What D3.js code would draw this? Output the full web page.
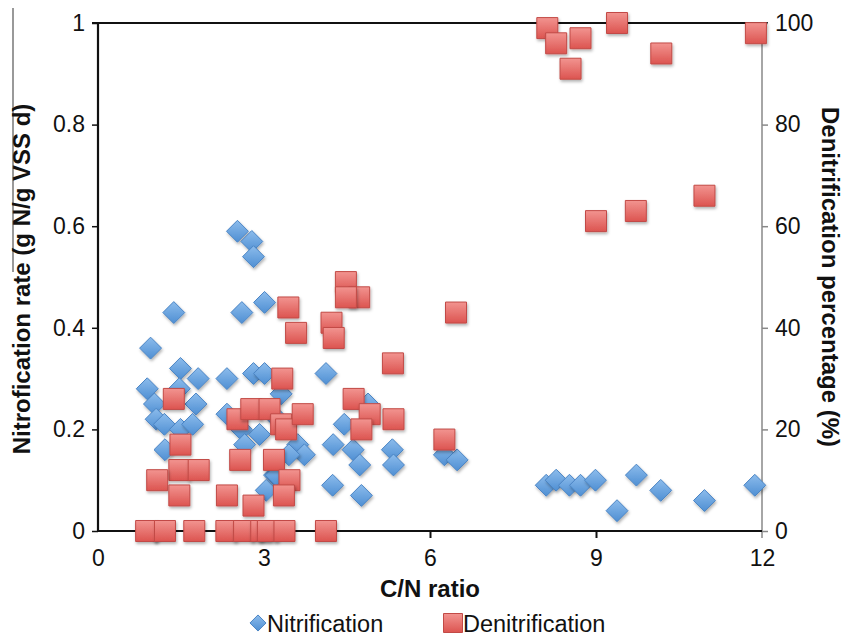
<!DOCTYPE html>
<html>
<head>
<meta charset="utf-8">
<script src="https://cdn.jsdelivr.net/npm/d3@7"></script>
<style>
  body { margin: 0; background: #fff; }
  svg { display: block; font-family: "Liberation Sans", Arial, Helvetica, sans-serif; }
</style>
</head>
<body>
<svg id="chart" width="847" height="639"></svg>
<script>
// nitrification rate (g N/g VSS d) against C/N ratio
const nitrificationCN = [
  0.95, 1.37, 2.52, 2.78, 2.81, 2.60, 3.01, 1.49, 1.81, 2.33,
  2.81, 3.01, 4.12, 0.89, 1.47, 1.02, 1.77, 1.05, 1.20, 1.49,
  1.71, 1.21, 2.33, 2.59, 2.92, 2.65, 3.31, 3.61, 3.73, 3.19,
  3.04, 4.25, 4.24, 4.45, 4.61, 4.73, 4.76, 4.88, 5.32, 5.34,
  6.26, 6.49, 8.10, 8.28, 8.52, 8.72, 8.99, 9.38, 9.73, 10.17,
  10.96, 11.87, 1.05, 2.95, 3.25, 3.45, 3.22
];
const nitrificationRate = [
  0.36, 0.43, 0.59, 0.57, 0.54, 0.43, 0.45, 0.32, 0.30, 0.30,
  0.31, 0.31, 0.31, 0.28, 0.28, 0.25, 0.25, 0.22, 0.21, 0.20,
  0.21, 0.16, 0.23, 0.20, 0.19, 0.17, 0.27, 0.17, 0.15, 0.11,
  0.08, 0.17, 0.09, 0.21, 0.16, 0.13, 0.07, 0.25, 0.16, 0.13,
  0.15, 0.14, 0.09, 0.10, 0.09, 0.09, 0.10, 0.04, 0.11, 0.08,
  0.06, 0.09, 0.00, 0.00, 0.22, 0.15, 0.11
];

// denitrification percentage (%) against C/N ratio
const denitrificationCN = [
  1.37, 1.49, 1.47, 1.82, 1.07, 1.47, 2.33, 2.57, 2.52, 2.77,
  3.10, 2.81, 3.18, 3.33, 3.31, 3.40, 3.46, 3.36, 3.70, 3.44,
  3.58, 4.22, 4.26, 4.48, 4.72, 4.48, 4.62, 4.91, 4.76, 5.33,
  5.34, 6.47, 6.26, 9.00, 9.72, 10.96, 8.12, 8.28, 8.72, 8.54,
  9.38, 10.18, 11.89,
  0.87, 1.21, 1.74, 2.32, 2.64, 2.95, 3.07, 3.37, 4.12
];
const denitrificationPct = [
  26, 17, 12, 12, 10, 7, 7, 14, 22, 24,
  24, 5, 14, 30, 21, 20, 10, 7, 23, 44,
  39, 41, 38, 49, 46, 46, 26, 23, 20, 33,
  22, 43, 18, 61, 63, 66, 99, 96, 97, 91,
  100, 94, 98,
  0, 0, 0, 0, 0, 0, 0, 0, 0
];

const xTicks = [0, 3, 6, 9, 12];
const leftTicks = [0, 0.2, 0.4, 0.6, 0.8, 1];
const rightTicks = [0, 20, 40, 60, 80, 100];

const svg = d3.select('#chart');
const plotLeft = 98, plotRight = 762, plotTop = 23, plotBottom = 531;

const x = d3.scaleLinear().domain([0, 12]).range([plotLeft, plotRight]);
const yLeft = d3.scaleLinear().domain([0, 1]).range([plotBottom, plotTop]);
const yRight = d3.scaleLinear().domain([0, 100]).range([plotBottom, plotTop]);

// defs: gradients + soft shadow
const defs = svg.append('defs');
const blue = defs.append('linearGradient').attr('id', 'blueGrad')
  .attr('x1', 0).attr('y1', 0).attr('x2', 0).attr('y2', 1);
blue.append('stop').attr('offset', '0%').attr('stop-color', '#8cbcec');
blue.append('stop').attr('offset', '100%').attr('stop-color', '#4f8fd3');
const red = defs.append('linearGradient').attr('id', 'redGrad')
  .attr('x1', 0).attr('y1', 0).attr('x2', 0).attr('y2', 1);
red.append('stop').attr('offset', '0%').attr('stop-color', '#f29490');
red.append('stop').attr('offset', '100%').attr('stop-color', '#dc5450');
const shadow = defs.append('filter').attr('id', 'shadow')
  .attr('x', '-50%').attr('y', '-50%').attr('width', '200%').attr('height', '200%');
shadow.append('feDropShadow').attr('dx', 1).attr('dy', 2)
  .attr('stdDeviation', 1.5).attr('flood-color', '#000').attr('flood-opacity', 0.3);

// odd grey rule at the far left of the original figure
svg.append('line').attr('x1', 13).attr('x2', 13).attr('y1', 8).attr('y2', 272)
  .attr('stroke', '#777').attr('stroke-width', 1.5);

// diamond symbol (drawn upright so the gradient runs top->bottom)
const diamondType = {
  draw(ctx, size) {
    const r = Math.sqrt(size / 2);
    ctx.moveTo(0, -r); ctx.lineTo(r, 0); ctx.lineTo(0, r); ctx.lineTo(-r, 0); ctx.closePath();
  }
};

// top frame line
svg.append('line').attr('x1', 92).attr('x2', plotRight + 6).attr('y1', plotTop).attr('y2', plotTop)
  .attr('stroke', '#111').attr('stroke-width', 2);

// right axis (grey)
const rAxis = svg.append('g').attr('transform', `translate(${plotRight},0)`)
  .call(d3.axisRight(yRight).tickValues(rightTicks).tickSize(6).tickPadding(7));
rAxis.select('.domain').attr('stroke', '#888').attr('stroke-width', 1.5)
  .attr('d', `M0,${plotTop}V${plotBottom + 7}`);
rAxis.selectAll('.tick line').attr('stroke', '#888').attr('stroke-width', 1.5);
rAxis.selectAll('.tick text').attr('font-size', 23).attr('fill', '#111');
rAxis.attr('font-family', null);

// bottom axis
const bAxis = svg.append('g').attr('transform', `translate(0,${plotBottom})`)
  .call(d3.axisBottom(x).tickValues(xTicks).tickSize(7).tickPadding(12));
bAxis.select('.domain').attr('stroke', '#111').attr('stroke-width', 2.2)
  .attr('d', `M${plotLeft},0H${plotRight}`);
bAxis.selectAll('.tick line').attr('stroke', '#111').attr('stroke-width', 2)
  .attr('opacity', d => (d === 0 || d === 12) ? 0 : 1);
bAxis.selectAll('.tick text').attr('font-size', 23).attr('fill', '#111');
bAxis.attr('font-family', null);

// left axis
const lAxis = svg.append('g').attr('transform', `translate(${plotLeft},0)`)
  .call(d3.axisLeft(yLeft).tickValues(leftTicks).tickSize(6).tickPadding(7).tickFormat(d => d));
lAxis.select('.domain').attr('stroke', '#111').attr('stroke-width', 2.2)
  .attr('d', `M0,${plotTop}V${plotBottom}`);
lAxis.selectAll('.tick line').attr('stroke', '#111').attr('stroke-width', 1.5);
lAxis.selectAll('.tick text').attr('font-size', 23).attr('fill', '#111');
lAxis.attr('font-family', null);

// nitrification diamonds
const nitrData = nitrificationCN.map((c, i) => ({ cn: c, v: nitrificationRate[i] }));
svg.append('g').attr('id', 'nitrification')
  .selectAll('path').data(nitrData).join('path')
  .attr('d', d3.symbol(diamondType, 240))
  .attr('transform', d => `translate(${x(d.cn)},${yLeft(d.v)})`)
  .attr('fill', 'url(#blueGrad)')
  .attr('stroke', '#4a84c4').attr('stroke-width', 1)
  .attr('filter', 'url(#shadow)');

// denitrification squares
const denData = denitrificationCN.map((c, i) => ({ cn: c, v: denitrificationPct[i] }));
svg.append('g').attr('id', 'denitrification')
  .selectAll('path').data(denData).join('path')
  .attr('d', d3.symbol(d3.symbolSquare, 441))
  .attr('transform', d => `translate(${x(d.cn)},${yRight(d.v)})`)
  .attr('fill', 'url(#redGrad)')
  .attr('stroke', '#c24a46').attr('stroke-width', 1)
  .attr('filter', 'url(#shadow)');

// axis titles
svg.append('text')
  .attr('transform', `translate(30,${(plotTop + plotBottom) / 2 + 2}) rotate(-90)`)
  .attr('text-anchor', 'middle').attr('font-size', 24).attr('font-weight', 'bold').attr('fill', '#111')
  .text('Nitrofication rate (g N/g VSS d)');
svg.append('text')
  .attr('transform', `translate(822,${(plotTop + plotBottom) / 2}) rotate(90)`)
  .attr('text-anchor', 'middle').attr('font-size', 24).attr('font-weight', 'bold').attr('fill', '#111')
  .text('Denitrification percentage (%)');
svg.append('text')
  .attr('x', (plotLeft + plotRight) / 2).attr('y', 597)
  .attr('text-anchor', 'middle').attr('font-size', 24).attr('font-weight', 'bold').attr('fill', '#111')
  .text('C/N ratio');

// legend
const legend = svg.append('g').attr('id', 'legend');
legend.append('path')
  .attr('d', d3.symbol(diamondType, 130))
  .attr('transform', 'translate(258,623)')
  .attr('fill', 'url(#blueGrad)').attr('stroke', '#4a84c4');
legend.append('text').attr('x', 267).attr('y', 632).attr('font-size', 23.5).attr('fill', '#111')
  .text('Nitrification');
legend.append('path')
  .attr('d', d3.symbol(d3.symbolSquare, 361))
  .attr('transform', 'translate(453,623)')
  .attr('fill', 'url(#redGrad)').attr('stroke', '#c24a46');
legend.append('text').attr('x', 463).attr('y', 632).attr('font-size', 23.5).attr('fill', '#111')
  .text('Denitrification');
</script>
</body>
</html>
